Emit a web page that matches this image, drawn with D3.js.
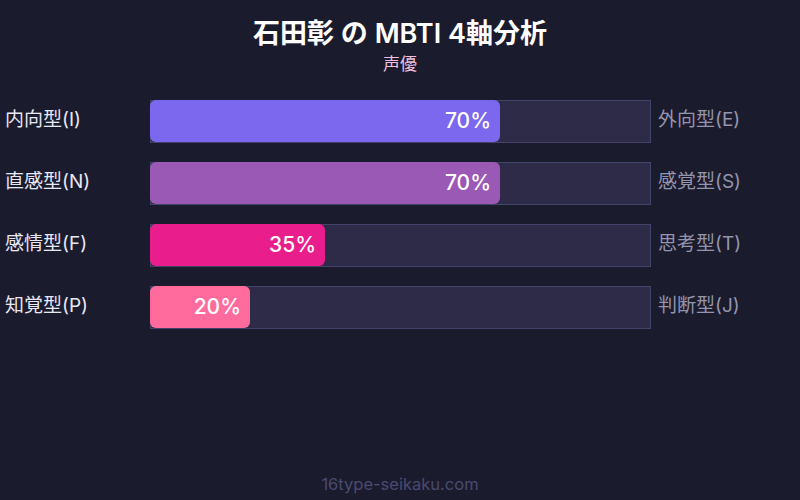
<!DOCTYPE html>
<html><head><meta charset="utf-8">
<script src="https://cdn.jsdelivr.net/npm/d3@7"></script>
<style>body{margin:0;background:#1b1b2e;}svg{display:block;font-family:Inter,"Noto Sans CJK JP",sans-serif;}</style>
</head><body><svg id="c" width="800" height="500"></svg>
<script>
const leftLabels = ["内向型(I)","直感型(N)","感情型(F)","知覚型(P)"];
const rightLabels = ["外向型(E)","感覚型(S)","思考型(T)","判断型(J)"];
const values = [70,70,35,20];
const colors = ["#7b68ee","#9b59b6","#e91e8c","#ff6b9d"];
const title = "石田彰 の MBTI 4軸分析";
const subtitle = "声優";
const footer = "16type-seikaku.com";

const svg = d3.select("#c");
svg.append("rect").attr("width",800).attr("height",500).attr("fill","#1b1b2e");
const x = d3.scaleLinear().domain([0,100]).range([150,650]);
const y = d3.scaleBand().domain(d3.range(values.length)).range([100,348]).paddingInner(20/62).paddingOuter(0).align(0);
const bh = 42;
const yy = i => 100 + i*62;

svg.append("text").attr("x",400).attr("y",43).attr("text-anchor","middle").attr("fill","#ffffff").attr("font-size",27).attr("font-weight",600).text(title);
svg.append("text").attr("x",400).attr("y",70).attr("text-anchor","middle").attr("fill","#f0c0e0").attr("font-size",17).text(subtitle);

const g = svg.selectAll("g.row").data(values).join("g").attr("class","row");
g.append("rect").attr("x",x(0)+0.5).attr("y",(d,i)=>yy(i)+0.5).attr("width",x(100)-x(0)).attr("height",bh)
 .attr("fill","#2d2b48").attr("stroke","#44446a").attr("stroke-width",1);
g.append("rect").attr("x",x(0)).attr("y",(d,i)=>yy(i)).attr("width",d=>x(d)-x(0)).attr("height",bh)
 .attr("rx",6).attr("fill",(d,i)=>colors[i]);
g.append("text").attr("x",d=>x(d)-9).attr("y",(d,i)=>yy(i)+bh/2+7).attr("text-anchor","end")
 .attr("fill","#ffffff").attr("font-size",21).attr("font-weight",500).text(d=>d+"%");
g.append("text").attr("x",5).attr("y",(d,i)=>yy(i)+bh/2+5).attr("fill","#e8e8f4").attr("font-size",19).text((d,i)=>leftLabels[i]);
g.append("text").attr("x",658).attr("y",(d,i)=>yy(i)+bh/2+5).attr("fill","#9494ac").attr("font-size",19).text((d,i)=>rightLabels[i]);

svg.append("text").attr("x",400).attr("y",490).attr("text-anchor","middle").attr("fill","#4a4a6e").attr("font-size",16.5).text(footer);
</script></body></html>
